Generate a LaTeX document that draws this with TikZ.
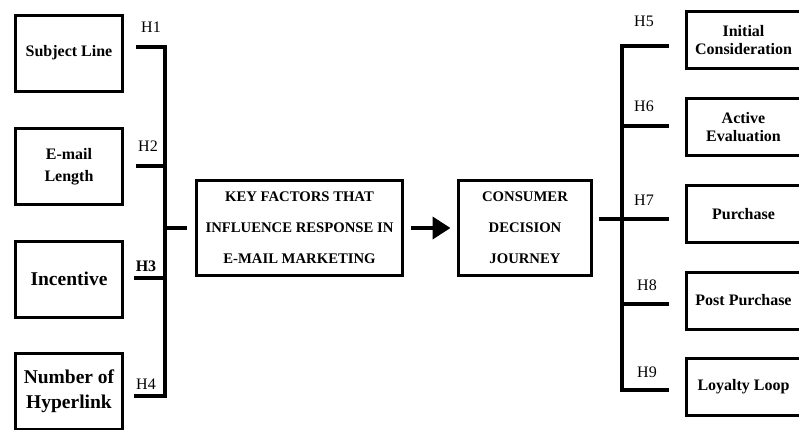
\documentclass[tikz,border=0pt]{standalone}
\usepackage{fontspec}
\setmainfont{Liberation Serif}
\usetikzlibrary{arrows.meta}
\tikzstyle{factor} = [rectangle, draw=black, line width=3pt, minimum width=107pt, minimum height=76pt, align=center, font=\bfseries\fontsize{16}{22}\selectfont]
\tikzstyle{bigfactor} = [factor, font=\bfseries\fontsize{19.5}{24.5}\selectfont]
\tikzstyle{stage} = [rectangle, draw=black, line width=3pt, minimum width=114pt, minimum height=57pt, align=center, font=\bfseries\fontsize{16}{18.5}\selectfont]
\tikzstyle{core} = [rectangle, draw=black, line width=3pt, minimum height=95pt, align=center, font=\bfseries\fontsize{14.7}{31}\selectfont]
\tikzstyle{link} = [line width=4pt, line join=miter]
\tikzstyle{hyp} = [font=\fontsize{16}{18}\selectfont, inner sep=0pt]
\tikzstyle{arrow} = [line width=4pt, -{Triangle[length=18pt,width=22pt]}]

\begin{document}
\begin{tikzpicture}[x=1pt,y=-1pt]
        \useasboundingbox (0,0) rectangle (799,429);
        \clip (0,0) rectangle (799,429);

        % factors on the left
        \draw (69,53) node[factor] (subj) {Subject Line} (69,166.5) node[factor] (len) {E-mail\\Length}
        (69,279) node[bigfactor] (inc) {Incentive} (69,391) node[bigfactor] (hyper) {Number of\\Hyperlink};

        \draw (299.5,228) node[core, minimum width=206pt] (key) {KEY FACTORS THAT\\INFLUENCE RESPONSE IN\\E-MAIL MARKETING};
        \draw (525,228) node[core, minimum width=133pt] (cdj) {CONSUMER\\DECISION\\JOURNEY};

        % stages on the right
        \draw (743.5,40) node[stage] (init) {Initial\\Consideration} (743.5,127) node[stage] (eval) {Active\\Evaluation}
        (743.5,214) node[stage] (buy) {Purchase} (743.5,300.5) node[stage] (post) {Post Purchase}
        (743.5,386.5) node[stage] (loop) {Loyalty Loop};

        \coordinate (t1) at (136,47); \coordinate (j1) at (165,47);
        \coordinate (t2) at (136,166); \coordinate (j2) at (165,166);
        \coordinate (t3) at (134,278); \coordinate (j3) at (165,278);
        \coordinate (t4) at (134,396); \coordinate (j4) at (165,396);
        \coordinate (jk) at (165,228);

        \draw[link] (t1) -- (j1) -- (j4) -- (t4);
        \draw[link] (t2) -- (j2);
        \draw[link] (t3) -- (j3);
        \draw[link] (jk) -- ([xshift=-8.5pt]key.west);

        \draw (151,27) node[hyp] (h1) {H1};
        \draw (148,146) node[hyp] (h2) {H2};
        \draw (146,266) node[hyp] (h3) {\bfseries H3};
        \draw (146,384) node[hyp] (h4) {H4};

        \draw[arrow] ([xshift=6.5pt]key.east) -- ([xshift=-6.5pt]cdj.west);

        \coordinate (r5) at (622,46); \coordinate (s5) at (669,46);
        \coordinate (r6) at (622,126); \coordinate (s6) at (669,126);
        \coordinate (r7) at (622,219); \coordinate (s7) at (669,219);
        \coordinate (r8) at (622,304); \coordinate (s8) at (669,304);
        \coordinate (r9) at (622,390); \coordinate (s9) at (669,390);

        \draw[link] (s5) -- (r5) -- (r9) -- (s9);
        \draw[link] (s6) -- (r6);
        \draw[link] ([xshift=5.5pt]cdj.east |- r7) -- (s7);
        \draw[link] (s8) -- (r8);

        \draw (644,21) node[hyp] (h5) {H5};
        \draw (644,106) node[hyp] (h6) {H6};
        \draw (644,200) node[hyp] (h7) {H7};
        \draw (647,285) node[hyp] (h8) {H8};
        \draw (647,372) node[hyp] (h9) {H9};
    \end{tikzpicture}
\end{document}
